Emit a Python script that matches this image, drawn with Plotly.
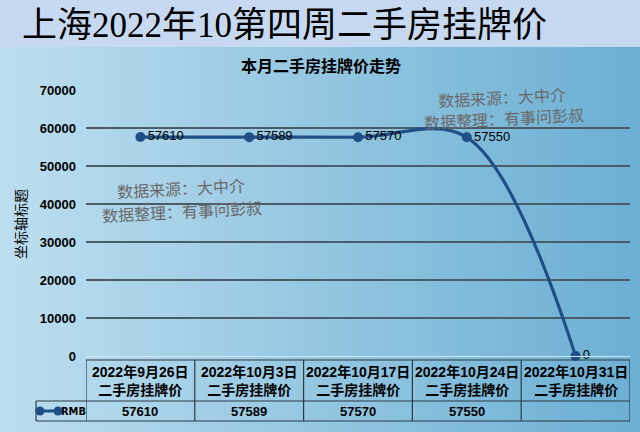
import plotly.graph_objects as go

# ---- data ----
categories = ["2022年9月26日<br>二手房挂牌价", "2022年10月3日<br>二手房挂牌价",
              "2022年10月17日<br>二手房挂牌价", "2022年10月24日<br>二手房挂牌价",
              "2022年10月31日<br>二手房挂牌价"]
values = [57610, 57589, 57570, 57550, 0]
table_values = ["57610", "57589", "57570", "57550", ""]
series_name = "RMB"
y_ticks = [0, 10000, 20000, 30000, 40000, 50000, 60000, 70000]

W, H = 640, 432
L, R, T, B = 86, 630, 90, 356
PW, PH = R - L, B - T


def px(xp):
    return (xp - L) / PW


def py(yp):
    return (B - yp) / PH


SANS = "Liberation Sans, Noto Sans CJK SC, sans-serif"
SERIF = "Liberation Serif, Noto Sans CJK SC, serif"
LINE = "#1f4f86"

xs = list(range(len(values)))
fig = go.Figure()
fig.add_trace(go.Scatter(
    x=xs, y=values, mode="lines+markers+text", name=series_name,
    line=dict(color=LINE, width=3.2, shape="spline", smoothing=1.0),
    marker=dict(color=LINE, size=10),
    text=[str(v) for v in values],
    textposition="middle right",
    textfont=dict(family=SANS, size=13, color="#000"),
    cliponaxis=False, showlegend=False,
))

shapes = []
# background gradient
N = 80
c0 = (188, 222, 239)
c1 = (108, 175, 211)
for i in range(N):
    t = i / (N - 1)
    col = "rgb(%d,%d,%d)" % tuple(round(a + (b - a) * t) for a, b in zip(c0, c1))
    shapes.append(dict(type="rect", xref="paper", yref="paper", layer="below",
                       x0=px(i * W / N), x1=px((i + 1) * W / N + 0.6),
                       y0=py(H), y1=py(47), fillcolor=col, line=dict(width=0)))
# title band
shapes.append(dict(type="rect", xref="paper", yref="paper", layer="below",
                   x0=px(0), x1=px(W), y0=py(47), y1=py(0),
                   fillcolor="#c6d9f1", line=dict(width=0)))

# table lines
bc = "#2b3a46"
bw = 1.2
n = len(values)
for i in range(n + 1):
    shapes.append(dict(type="line", xref="x", yref="paper", x0=i - 0.5, x1=i - 0.5,
                       y0=py(360), y1=py(421), line=dict(color=bc, width=bw)))
shapes.append(dict(type="line", xref="x", yref="paper", x0=-0.5, x1=n - 0.5,
                   y0=py(360), y1=py(360), line=dict(color=bc, width=bw)))
for yy in (401, 421):
    shapes.append(dict(type="line", xref="paper", yref="paper", x0=px(36), x1=px(R),
                       y0=py(yy), y1=py(yy), line=dict(color=bc, width=bw)))
shapes.append(dict(type="line", xref="paper", yref="paper", x0=px(36), x1=px(36),
                   y0=py(401), y1=py(421), line=dict(color=bc, width=bw)))
# legend key
shapes.append(dict(type="line", xref="paper", yref="paper", x0=px(40), x1=px(58),
                   y0=py(411), y1=py(411), line=dict(color=LINE, width=3)))
for cx in (40, 58):
    shapes.append(dict(type="circle", xref="paper", yref="paper",
                       x0=px(cx - 4.5), x1=px(cx + 4.5), y0=py(411 + 4.5), y1=py(411 - 4.5),
                       fillcolor=LINE, line=dict(width=0)))

ann = []
ann.append(dict(text="上海2022年10第四周二手房挂牌价", xref="paper", yref="paper",
                x=px(20), y=py(25), xanchor="left", yanchor="middle", showarrow=False,
                font=dict(family=SERIF, size=35, color="#000")))
ann.append(dict(text="<b>本月二手房挂牌价走势</b>", xref="paper", yref="paper",
                x=px(321), y=py(66), xanchor="center", yanchor="middle", showarrow=False,
                font=dict(family=SANS, size=16, color="#000")))
ann.append(dict(text="坐标轴标题", xref="paper", yref="paper", textangle=-90,
                x=px(21), y=py(224), xanchor="center", yanchor="middle", showarrow=False,
                font=dict(family=SANS, size=14, color="#000")))
# watermarks
for (x1, y1, x2, y2) in ((181, 189, 182, 212), (502, 98, 504, 119)):
    ann.append(dict(text="数据来源：大中介", xref="paper", yref="paper", textangle=-3,
                    x=px(x1), y=py(y1), xanchor="center", yanchor="middle", showarrow=False,
                    font=dict(family=SERIF, size=16, color="#6a6a6a")))
    ann.append(dict(text="数据整理：有事问彭叔", xref="paper", yref="paper", textangle=-3,
                    x=px(x2), y=py(y2), xanchor="center", yanchor="middle", showarrow=False,
                    font=dict(family=SERIF, size=16, color="#6a6a6a")))
# table text
for i, (c, v) in enumerate(zip(categories, table_values)):
    ann.append(dict(text="<b>" + c + "</b>", xref="x", yref="paper", x=i, y=py(380.5),
                    xanchor="center", yanchor="middle", showarrow=False,
                    font=dict(family=SANS, size=14, color="#000")))
    ann.append(dict(text="<b>" + v + "</b>", xref="x", yref="paper", x=i, y=py(411),
                    xanchor="center", yanchor="middle", showarrow=False,
                    font=dict(family=SANS, size=13, color="#000")))
ann.append(dict(text="<b>" + series_name + "</b>", xref="paper", yref="paper", x=px(73), y=py(411),
                xanchor="center", yanchor="middle", showarrow=False,
                font=dict(family="DejaVu Sans Condensed, Liberation Sans", size=11, color="#000")))

fig.update_layout(
    width=W, height=H,
    margin=dict(l=L, r=W - R, t=T, b=H - B, pad=0),
    paper_bgcolor="#b5d8ea", plot_bgcolor="rgba(0,0,0,0)",
    shapes=shapes, annotations=ann,
    xaxis=dict(range=[-0.5, n - 0.5], showgrid=False, showticklabels=False,
               zeroline=False, showline=True, linecolor="#d2e6f1", linewidth=1, fixedrange=True),
    yaxis=dict(range=[0, 70000], tickvals=y_ticks, ticktext=["<b>%d</b>" % v for v in y_ticks],
               showgrid=True, gridcolor="#4c5b68", gridwidth=1.5, zeroline=False,
               tickfont=dict(family=SANS, size=13, color="#000"), ticklabelstandoff=9,
               showline=False, fixedrange=True),
)
fig.write_html("out.html", config={"displayModeBar": False},
               post_script="document.body.style.margin='0';document.body.style.overflow='hidden';")
